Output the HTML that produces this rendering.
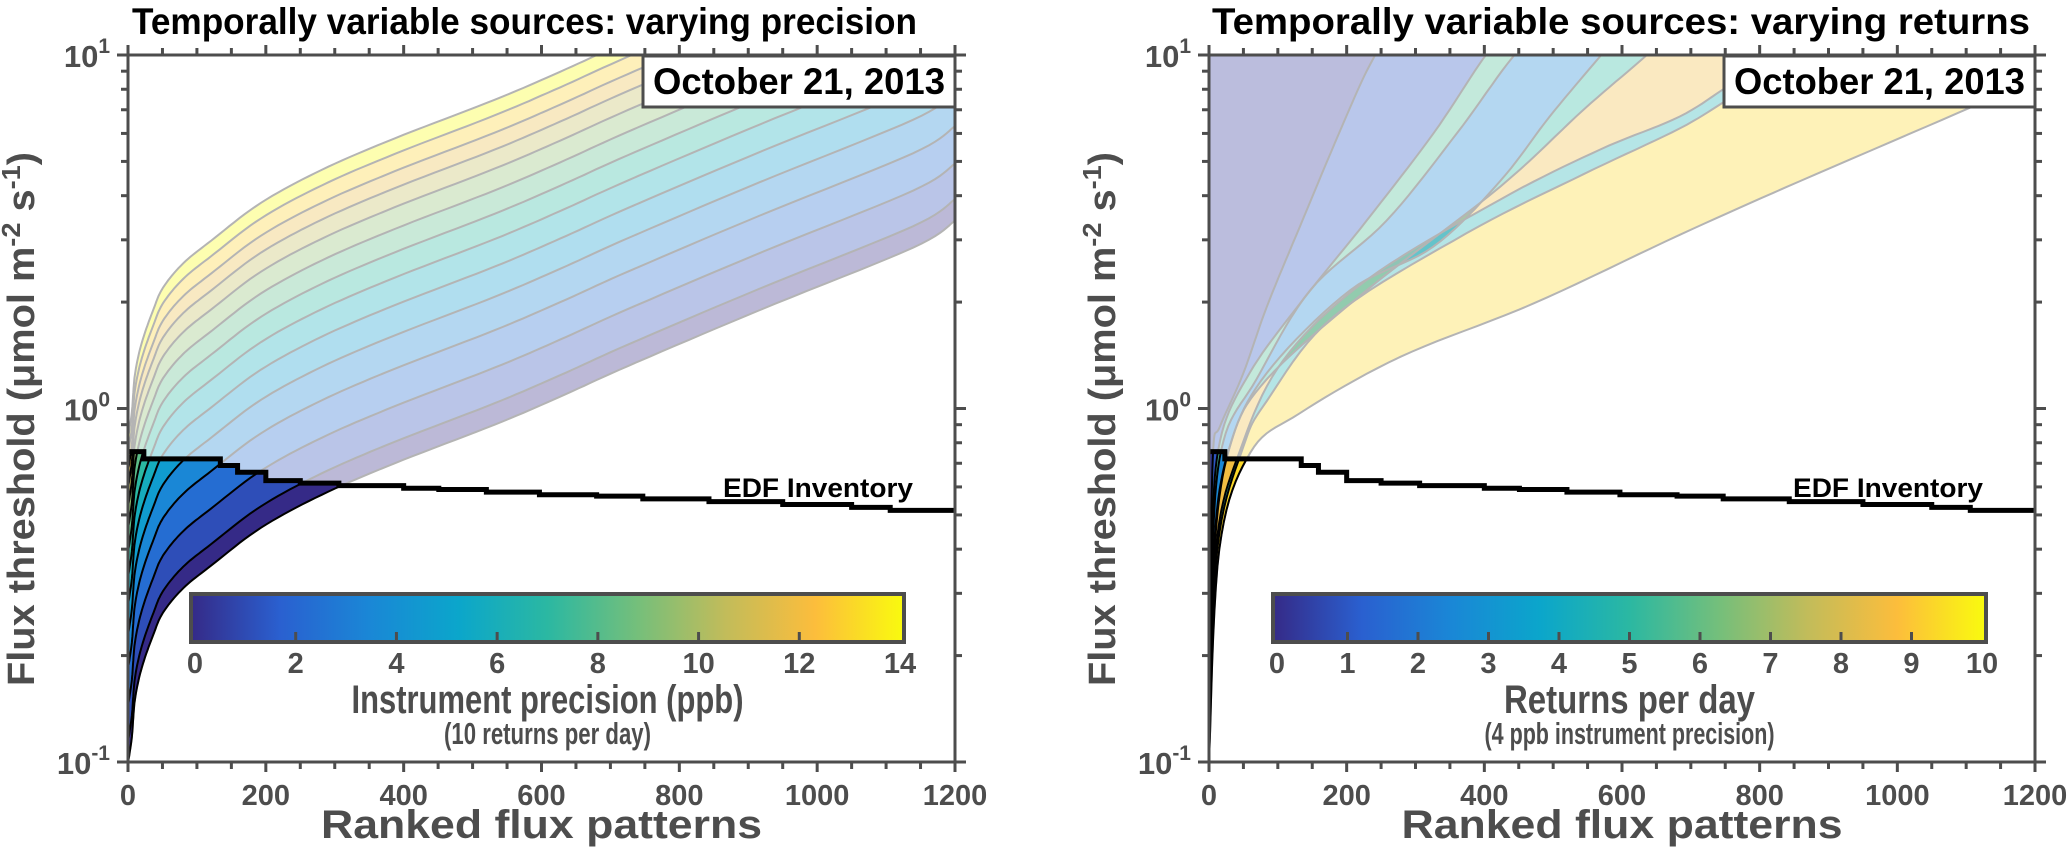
<!DOCTYPE html>
<html><head><meta charset="utf-8">
<style>
html,body{margin:0;padding:0;background:#fff;}
svg{display:block;font-family:"Liberation Sans",Arial,sans-serif;font-weight:bold;}
</style></head>
<body>
<svg id="fig" width="2067" height="855" viewBox="0 0 2067 855" xmlns="http://www.w3.org/2000/svg">
<defs>
<clipPath id="clipL"><rect x="128" y="55" width="827" height="707"/></clipPath>
<clipPath id="clipR"><rect x="1209" y="55" width="826" height="707"/></clipPath>
<clipPath id="edfL"><path id="edfLclip" d=""/></clipPath>
<clipPath id="edfR"><path id="edfRclip" d=""/></clipPath>
<linearGradient id="parGrad" x1="0" x2="1" y1="0" y2="0"></linearGradient>
</defs>
<g id="layer"></g>
</svg>
<script>
// ---------- data ----------
const edfRank = [0,23,134,159,200,250,306,400,451,520,597,680,747,843,950,1050,1106,1200];
const edfFlux = [0.755,0.72,0.69,0.66,0.625,0.615,0.605,0.595,0.59,0.58,0.57,0.565,0.555,0.545,0.535,0.525,0.515,0.51];
const baseRank = [0,2,6,10,20,37,51,80,121,193,281,387,532,627,726,917,1139,1200];
const baseFlux = [0.1,0.105,0.12,0.15,0.185,0.23,0.265,0.31,0.36,0.46,0.57,0.70,0.9,1.08,1.32,1.9,2.85,3.4];
const precisionLevels = [1,2,3,4,5,6,7,8,9,10,11,12,13,14];
const precisionMult = [1,1.15,1.45,1.85,2.3,2.8,3.35,3.95,4.6,5.3,6.0,6.7,7.5,8.3];
const rRank = [
 [0,2,6,16,50,84,132,195,239,300],
 [0,4,16,59,132,229,326,399,450],
 [0,5,21,69,147,258,360,440,500],
 [0,7,30,84,205,326,423,495,566,620],
 [0,8,32,84,229,423,544,631,700],
 [0,10,45,108,229,423,568,684,760,850],
 [0,12,50,84,181,374,544,684,760,860,950],
 [0,15,60,132,278,471,684,859,1106,1200]
];
const rFlux = [
 [0.1,0.3,0.76,0.89,1.26,1.94,3.27,6.4,9.8,15],
 [0.1,0.4,0.81,1.26,1.98,3.4,6.0,9.8,13],
 [0.1,0.4,0.81,1.21,2.16,3.4,6.0,9.8,13],
 [0.1,0.4,0.78,1.26,2.16,2.87,4.4,6.7,9.8,13],
 [0.1,0.4,0.8,1.21,2.16,4.24,7.0,9.8,13],
 [0.1,0.4,0.76,1.37,2.31,3.9,5.4,6.7,8.3,10.5],
 [0.1,0.4,0.78,1.05,1.82,3.13,4.6,6.2,7.6,9.8,12],
 [0.1,0.4,0.75,0.97,1.40,1.98,3.1,4.4,7.1,8.6]
];
const rBandLevel = [0.03,0.1,0.55,0.25,0.5,0.85,0.45,0.93];
const leftTicks = [0,2,4,6,8,10,12,14];
const rightTicks = [0,1,2,3,4,5,6,7,8,9,10];
const xTickLabels = [0,200,400,600,800,1000,1200];

// ---------- helpers ----------
const NS = "http://www.w3.org/2000/svg";
const layer = document.getElementById('layer');
const AX = '#4d4d4d';
const YT = 55, YB = 762;
function yv(v){ return YT + (1 - Math.log10(v)) * (YB - YT) / 2; }
function xL(u){ return 128 + u * 827 / 1200; }
function xR(u){ return 1209 + u * 826 / 1200; }
function mk(tag, attrs, parent){
  const e = document.createElementNS(NS, tag);
  for (const k in attrs) e.setAttribute(k, attrs[k]);
  (parent || layer).appendChild(e);
  return e;
}
const stops = [[0,'#352a87'],[0.125,'#2a60d0'],[0.25,'#1a87d6'],[0.375,'#0ba6cb'],[0.5,'#2bb8a2'],[0.625,'#74bf7b'],[0.75,'#c2bc5a'],[0.875,'#fcbd3c'],[1,'#f9fb0e']];
function hex(h){ return [1,3,5].map(i=>parseInt(h.substr(i,2),16)); }
function parula(t){
  t = Math.max(0, Math.min(1, t));
  for (let i=0;i<stops.length-1;i++){
    if (t <= stops[i+1][0]){
      const a=hex(stops[i][1]), b=hex(stops[i+1][1]);
      const f=(t-stops[i][0])/(stops[i+1][0]-stops[i][0]);
      return 'rgb('+a.map((c,j)=>Math.round(c+(b[j]-c)*f)).join(',')+')';
    }
  }
  return stops[stops.length-1][1];
}
const grad = document.getElementById('parGrad');
stops.forEach(s=>{ const st=document.createElementNS(NS,'stop'); st.setAttribute('offset',s[0]); st.setAttribute('stop-color',s[1]); grad.appendChild(st); });

// smooth (Catmull-Rom) pixel points through data samples
function ptsStr(xs, ys, xf){
  const P = xs.map((u,i)=>[xf(u), yv(ys[i])]);
  const out = [];
  for (let i=0;i<P.length-1;i++){
    const p0=P[Math.max(0,i-1)], p1=P[i], p2=P[i+1], p3=P[Math.min(P.length-1,i+2)];
    for (let s=0;s<10;s++){
      const t=s/10, t2=t*t, t3=t2*t;
      const f=(a,b,c,d)=>0.5*((2*b)+(-a+c)*t+(2*a-5*b+4*c-d)*t2+(-a+3*b-3*c+d)*t3);
      out.push(f(p0[0],p1[0],p2[0],p3[0]).toFixed(1)+','+f(p0[1],p1[1],p2[1],p3[1]).toFixed(1));
    }
  }
  const L=P[P.length-1]; out.push(L[0].toFixed(1)+','+L[1].toFixed(1));
  return out;
}
function edfPath(xf){
  let d = 'M'+xf(edfRank[0])+','+yv(edfFlux[0]);
  for (let i=1;i<edfRank.length;i++){
    d += ' L'+xf(edfRank[i])+','+yv(edfFlux[i-1])+' L'+xf(edfRank[i])+','+yv(edfFlux[i]);
  }
  return d;
}
function edfClip(xf){
  return edfPath(xf)+' L'+xf(1200)+','+YB+' L'+xf(0)+','+YB+' Z';
}
document.getElementById('edfLclip').setAttribute('d', edfClip(xL));
document.getElementById('edfRclip').setAttribute('d', edfClip(xR));
function bandPoly(xa, ya, xb, yb, xf){
  return ptsStr(xa, ya, xf).concat(ptsStr(xb, yb, xf).reverse()).join(' ');
}

// ---------- left panel ----------
const leftCurves = precisionMult.map(m => baseFlux.map(v => v*m));
const gL = mk('g',{'clip-path':'url(#clipL)'});


for (let k=0;k<leftCurves.length-1;k++){
  const p = mk('polygon',{points:bandPoly(baseRank,leftCurves[k],baseRank,leftCurves[k+1],xL),fill:parula(k/12),'fill-opacity':0.33}, gL);
  
  
}
leftCurves.forEach((c,k)=>{
  const l = mk('polyline',{points:ptsStr(baseRank,c,xL).join(' '),fill:'none',stroke:'#b4b4b4','stroke-width':2}, gL);
  
  
});
const gLd = mk('g',{'clip-path':'url(#edfL)'}, gL);


for (let k=0;k<leftCurves.length-1;k++){
  const p = mk('polygon',{points:bandPoly(baseRank,leftCurves[k],baseRank,leftCurves[k+1],xL),fill:parula(k/12)}, gLd);
  
  
}
leftCurves.forEach((c,k)=>{
  const l = mk('polyline',{points:ptsStr(baseRank,c,xL).join(' '),fill:'none',stroke:'#000','stroke-width':2}, gLd);
  
  
});
const edfL = mk('path',{d:edfPath(xL),fill:'none',stroke:'#000','stroke-width':5}, gL);



// ---------- right panel ----------
const gR = mk('g',{'clip-path':'url(#clipR)'});


function rightBands(parent, opaque){
  const top = ptsStr(rRank[0], rFlux[0], xR);
  const first = top.concat([xR(rRank[0][rRank[0].length-1])+','+yv(15), xR(0)+','+yv(15)]).join(' ');
  const p0 = mk('polygon',{points:first,fill:parula(rBandLevel[0]),'fill-opacity':opaque?1:0.33}, parent);
  
  
  for (let j=0;j<rRank.length-1;j++){
    const p = mk('polygon',{points:bandPoly(rRank[j],rFlux[j],rRank[j+1],rFlux[j+1],xR),fill:parula(rBandLevel[j+1]),'fill-opacity':opaque?1:0.33}, parent);
    
    
  }
  rRank.forEach((xs,j)=>{
    const l = mk('polyline',{points:ptsStr(xs,rFlux[j],xR).join(' '),fill:'none',stroke:opaque?'#000':'#b4b4b4','stroke-width':2}, parent);
    
    
  });
}
rightBands(gR, false);
const gRd = mk('g',{'clip-path':'url(#edfR)'}, gR);


rightBands(gRd, true);
const edfR = mk('path',{d:edfPath(xR),fill:'none',stroke:'#000','stroke-width':5}, gR);



// ---------- axes ----------
function axes(x0, x1, xf, side){
  const g = mk('g',{});
  
  
  mk('rect',{x:x0,y:YT,width:x1-x0,height:YB-YT,fill:'none',stroke:AX,'stroke-width':3}, g);
  for (let u=0;u<=1200;u+=50){
    const L = (u%200===0)?10:7, X=xf(u);
    mk('line',{x1:X,x2:X,y1:YB,y2:YB+L,stroke:AX,'stroke-width':3}, g);
    mk('line',{x1:X,x2:X,y1:YT,y2:YT-L,stroke:AX,'stroke-width':3}, g);
  }
  [0.1,1].forEach(dec=>{
    for (let m=1;m<=10;m++){
      const v=dec*m, Y=yv(v), L=(m===1||m===10)?11:7;
      mk('line',{x1:x0,x2:x0-L,y1:Y,y2:Y,stroke:AX,'stroke-width':3}, g);
      mk('line',{x1:x1,x2:x1+L,y1:Y,y2:Y,stroke:AX,'stroke-width':3}, g);
    }
  });
  xTickLabels.forEach(v=>{
    const t = mk('text',{x:xf(v),y:805,'text-anchor':'middle','font-size':29,fill:AX}, g);
    t.textContent = v;
    
    
  });
  [[1,'1'],[0,'0'],[-1,'-1']].forEach(([e,s])=>{
    const t = mk('text',{x:x0-18,y:yv(Math.pow(10,e))+12,'text-anchor':'end','font-size':31,fill:AX}, g);
    t.innerHTML = '10<tspan dy="-14" font-size="21">'+s+'</tspan>';
    
    
  });
  const xt = mk('text',{x:(x0+x1)/2,y:838,'text-anchor':'middle','font-size':40,fill:AX,textLength:441,lengthAdjust:'spacingAndGlyphs'}, g);
  xt.textContent = 'Ranked flux patterns';
  
  
  const cx = x0-94, cy = 419;
  const yt = mk('text',{x:cx,y:cy,'text-anchor':'middle','font-size':38,fill:AX,transform:'rotate(-90 '+cx+' '+cy+')',textLength:534,lengthAdjust:'spacingAndGlyphs'}, g);
  yt.innerHTML = 'Flux threshold (\u03bcmol m<tspan dy="-14" font-size="26">-2</tspan><tspan dy="14"> s</tspan><tspan dy="-14" font-size="26">-1</tspan><tspan dy="14">)</tspan>';
  
  
}
axes(128, 955, xL, 'left');
axes(1209, 2035, xR, 'right');

// ---------- titles, boxes, labels ----------
function txt(s, attrs, name){
  const t = mk('text', attrs);
  t.textContent = s;
  
  
  return t;
}
txt('Temporally variable sources: varying precision',{x:132,y:34,'font-size':37,fill:'#000',textLength:785,lengthAdjust:'spacingAndGlyphs'},'left-title');
txt('Temporally variable sources: varying returns',{x:1212,y:34,'font-size':37,fill:'#000',textLength:818,lengthAdjust:'spacingAndGlyphs'},'right-title');
[[643,955,'left'],[1724,2035,'right']].forEach(([a,b,s])=>{
  const r = mk('rect',{x:a,y:56,width:b-a,height:51,fill:'#fff',stroke:AX,'stroke-width':3});
  
  
  txt('October 21, 2013',{x:a+10,y:94,'font-size':37,fill:'#000',textLength:b-a-20,lengthAdjust:'spacingAndGlyphs'}, s+'-date-label');
});
txt('EDF Inventory',{x:913,y:497,'text-anchor':'end','font-size':27,fill:'#000',textLength:190,lengthAdjust:'spacingAndGlyphs'},'edf-label-left');
txt('EDF Inventory',{x:1983,y:497,'text-anchor':'end','font-size':27,fill:'#000',textLength:190,lengthAdjust:'spacingAndGlyphs'},'edf-label-right');

// ---------- colorbars ----------
function colorbar(x0, x1, ticks, maxV, side, title, sub, tW, sW){
  const g = mk('g',{});
  
  
  mk('rect',{x:x0,y:594,width:x1-x0,height:48,fill:'url(#parGrad)',stroke:AX,'stroke-width':4}, g);
  const i0=x0+4, i1=x1-4;
  ticks.forEach(v=>{
    const X = i0 + (i1-i0)*v/maxV;
    if (v>0 && v<maxV) mk('line',{x1:X,x2:X,y1:640,y2:632,stroke:AX,'stroke-width':3}, g);
    const t = mk('text',{x:X,y:673,'text-anchor':'middle','font-size':29,fill:AX}, g);
    t.textContent = v;
    
    
  });
  const c = (x0+x1)/2;
  const a = mk('text',{x:c,y:713,'text-anchor':'middle','font-size':40,fill:AX,textLength:tW,lengthAdjust:'spacingAndGlyphs'}, g);
  a.textContent = title;
  
  
  const b = mk('text',{x:c,y:744,'text-anchor':'middle','font-size':31,fill:AX,textLength:sW,lengthAdjust:'spacingAndGlyphs'}, g);
  b.textContent = sub;
  
  
}
colorbar(191, 904, leftTicks, 14, 'left', 'Instrument precision (ppb)', '(10 returns per day)', 392, 207);
colorbar(1273, 1986, rightTicks, 10, 'right', 'Returns per day', '(4 ppb instrument precision)', 251, 290);
</script>
</body></html>
